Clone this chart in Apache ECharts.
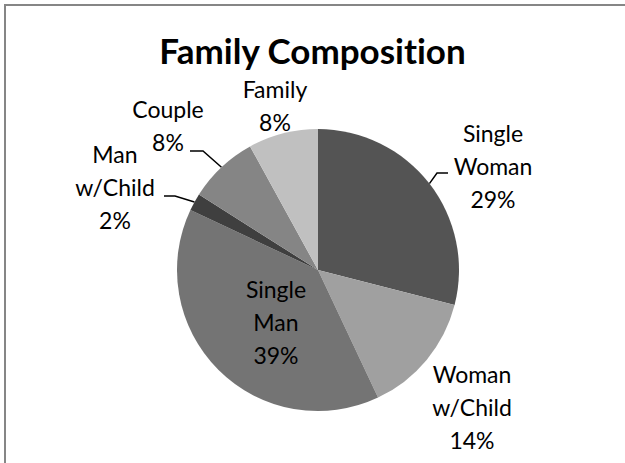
<!DOCTYPE html>
<html>
<head>
<meta charset="utf-8">
<script src="https://cdn.jsdelivr.net/npm/echarts@6/dist/echarts.min.js"></script>
<style>
html,body{margin:0;padding:0;background:#fff;overflow:hidden;}
#chart{width:625px;height:463px;font-variant-ligatures:none;}
#chart svg text{font-variant-ligatures:none;font-feature-settings:"liga" 0,"clig" 0;}
</style>
</head>
<body>
<div id="chart"></div>
<script>
const titleText = 'Family Composition';
const categories = ['Single\nWoman', 'Woman\nw/Child', 'Single\nMan', 'Man\nw/Child', 'Couple', 'Family'];
const values = [29, 14, 39, 2, 8, 8];
const colors = ['#545454', '#a0a0a0', '#747474', '#3f3f3f', '#858585', '#c0c0c0'];

// label anchor positions (label centers) and leader-line settings
const labelPos = [
  { x: 493, y: 166, line: true, elbow: [437, 173], end: [448, 173] },
  { x: 472, y: 407, line: false },
  { x: 276, y: 322, line: false },
  { x: 115, y: 187, line: true, elbow: [175, 196], end: [164, 196] },
  { x: 168, y: 125, line: true, elbow: [203, 151], end: [190, 151] },
  { x: 275, y: 105, line: false }
];

const chart = echarts.init(document.getElementById('chart'), null, { renderer: 'svg' });

const data = categories.map((c, i) => ({
  name: c,
  value: values[i],
  itemStyle: { color: colors[i] },
  label: { position: i === 2 ? 'inside' : 'outside' },
  labelLine: { show: labelPos[i].line }
}));

chart.setOption({
  animation: false,
  backgroundColor: '#ffffff',
  graphic: [
    { type: 'line', shape: { x1: 4, y1: 5, x2: 625, y2: 5 }, style: { stroke: '#868686', lineWidth: 2 }, silent: true },
    { type: 'line', shape: { x1: 5, y1: 4, x2: 5, y2: 463 }, style: { stroke: '#868686', lineWidth: 2 }, silent: true }
  ],
  title: {
    text: titleText,
    left: 'center',
    top: 27,
    textStyle: { fontFamily: 'Lato', fontWeight: 'bold', fontSize: 35, color: '#000' }
  },
  series: [{
    type: 'pie',
    center: [318, 270],
    radius: [0, 141],
    startAngle: 90,
    clockwise: true,
    avoidLabelOverlap: false,
    data: data,
    label: {
      show: true,
      formatter: '{b}\n{d}%',
      fontFamily: 'Lato',
      fontSize: 23,
      lineHeight: 33,
      color: '#000',
      align: 'center'
    },
    labelLine: { lineStyle: { color: '#000', width: 1.5 }, length: 10, length2: 10 },
    labelLayout: function (p) {
      const lp = labelPos[p.dataIndex];
      const out = { x: lp.x, y: lp.y, align: 'center', verticalAlign: 'middle' };
      if (lp.line && p.labelLinePoints) {
        out.labelLinePoints = [p.labelLinePoints[0], lp.elbow, lp.end];
      }
      return out;
    },
    emphasis: { disabled: true }
  }]
});
</script>
</body>
</html>
